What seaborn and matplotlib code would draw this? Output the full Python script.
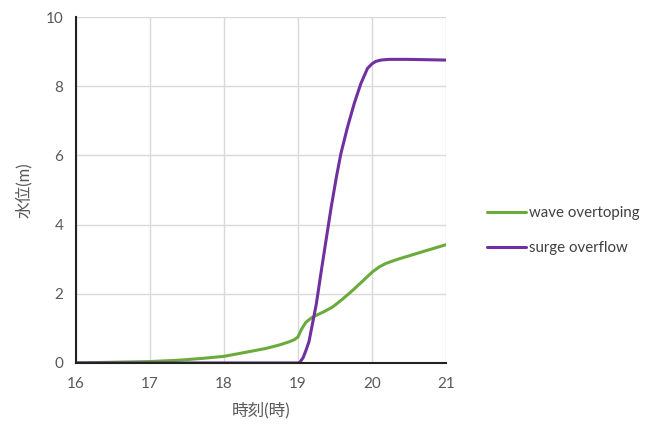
import matplotlib
matplotlib.use("Agg")
import matplotlib.pyplot as plt
import seaborn as sns
import pandas as pd

time_wave = [16.0, 16.5, 17.0, 17.4, 17.7, 18.0, 18.3, 18.57, 18.75, 18.88, 18.95, 19.0, 19.05, 19.11, 19.18, 19.25, 19.35, 19.47, 19.6, 19.74, 19.88, 20.01, 20.1, 20.19, 20.35, 20.55, 20.75, 21.0]
wave_overtopping = [0.0, 0.02, 0.04, 0.08, 0.13, 0.19, 0.31, 0.42, 0.52, 0.61, 0.67, 0.75, 0.98, 1.18, 1.3, 1.38, 1.48, 1.62, 1.84, 2.1, 2.38, 2.64, 2.78, 2.88, 3.0, 3.13, 3.26, 3.42]

time_surge = [16.0, 17.0, 18.0, 18.9, 19.02, 19.07, 19.11, 19.15, 19.18, 19.25, 19.31, 19.38, 19.45, 19.52, 19.58, 19.67, 19.76, 19.85, 19.94, 20.0, 20.05, 20.12, 20.23, 20.5, 21.0]
surge_overflow = [0.0, 0.0, 0.0, 0.0, 0.0, 0.15, 0.37, 0.62, 0.95, 1.72, 2.58, 3.55, 4.51, 5.38, 6.05, 6.82, 7.5, 8.08, 8.52, 8.65, 8.72, 8.76, 8.78, 8.78, 8.76]

series_names = ["wave overtoping", "surge overflow"]
colors = ["#6aab3c", "#7030a0"]

sns.set_theme(style="whitegrid")
plt.rcParams["font.family"] = ["Lato", "Noto Sans CJK JP", "DejaVu Sans"]

fig = plt.figure(figsize=(6.53, 4.41), dpi=100)
ax = fig.add_axes([0.116, 0.177, 0.567, 0.784])

df_w = pd.DataFrame({"t": time_wave, "v": wave_overtopping})
df_s = pd.DataFrame({"t": time_surge, "v": surge_overflow})
sns.lineplot(data=df_w, x="t", y="v", ax=ax, color=colors[0], lw=2.2, label=series_names[0])
sns.lineplot(data=df_s, x="t", y="v", ax=ax, color=colors[1], lw=2.2, label=series_names[1])

ax.set_xlim(16, 21)
ax.set_ylim(0, 10)
ax.set_xticks([16, 17, 18, 19, 20, 21])
ax.set_yticks([0, 2, 4, 6, 8, 10])
ax.grid(True, color="#d9d9d9", lw=1.0)
for s in ["top", "right"]:
    ax.spines[s].set_visible(False)
for s in ["left", "bottom"]:
    ax.spines[s].set_color("#222222")
    ax.spines[s].set_linewidth(1.5)
ax.tick_params(axis="y", direction="out", length=5, width=1.2, color="#222222", labelsize=11, labelcolor="#595959", pad=4)
ax.tick_params(axis="x", direction="in", length=5, width=1.2, color="#222222", labelsize=11, labelcolor="#595959", pad=10)

ax.set_xlabel("時刻(時)", fontsize=12, color="#595959", labelpad=8)
ax.set_ylabel("水位(m)", fontsize=12, color="#595959", labelpad=10)

ax.legend_.remove()
handles, labels = ax.get_legend_handles_labels()
fig.legend(handles, labels, loc="center left", bbox_to_anchor=(0.725, 0.477), frameon=False,
           fontsize=10.8, labelcolor="#404040", handlelength=2.6, handletextpad=0.2, labelspacing=1.4)

fig.savefig("out.png", dpi=100)
